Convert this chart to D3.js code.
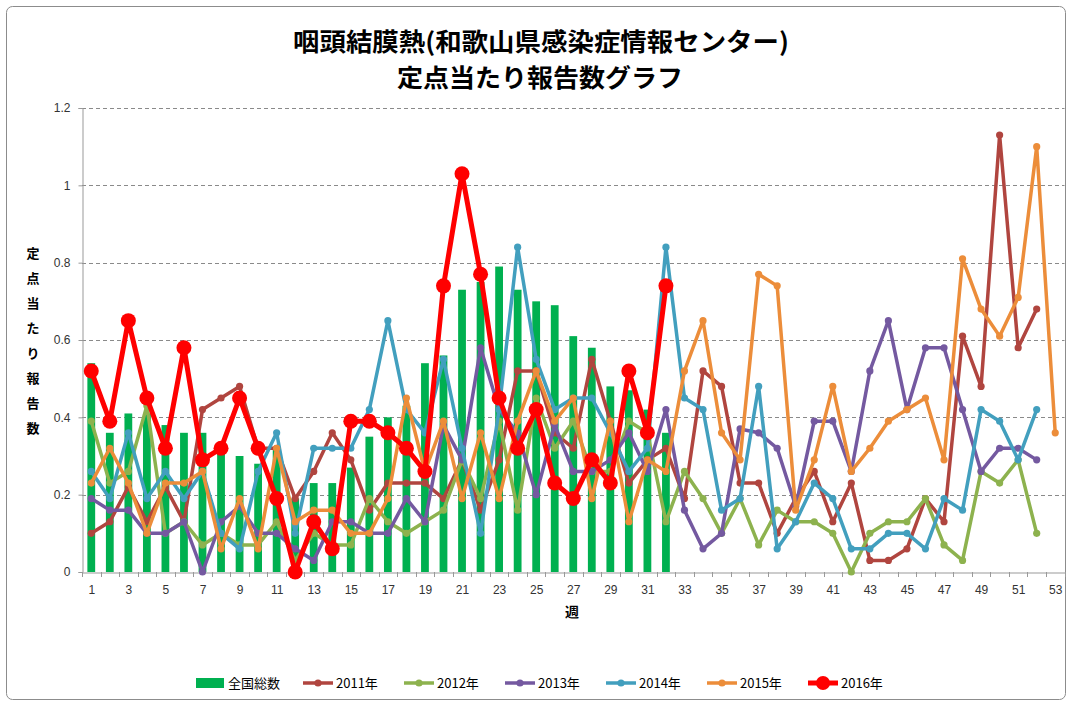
<!DOCTYPE html>
<html>
<head>
<meta charset="utf-8">
<script src="https://cdn.jsdelivr.net/npm/d3@7"></script>
<style>
    body { margin: 0; background: #fff; }
    #chart { width: 1072px; height: 706px; }
    text { font-family: "Liberation Sans", "Noto Sans CJK JP", sans-serif; }
    .jp { font-family: "Noto Sans CJK JP", sans-serif; }
</style>
</head>
<body>
<div id="chart"></div>
<script>
// weeks 1..53
let weeks = d3.range(1, 54);
let yTicks = [0, 0.2, 0.4, 0.6, 0.8, 1, 1.2];

// 全国総数 (bars)
let national = [0.54,0.36,0.41,0.41,0.38,0.36,0.36,0.33,0.30,0.28,0.32,0.19,0.23,0.23,0.27,0.35,
    0.40,0.43,0.54,0.56,0.73,0.75,0.79,0.73,0.70,0.69,0.61,0.58,0.48,0.47,0.42,0.36];

let y2011 = [0.10,0.13,0.22,0.13,0.22,0.13,0.42,0.45,0.48,0.32,0.32,0.19,0.26,0.36,0.29,0.16,
    0.23,0.23,0.23,0.19,0.29,0.16,0.29,0.52,0.52,0.36,0.32,0.55,0.39,0.23,0.29,0.32,0.19,0.52,
    0.48,0.23,0.23,0.10,0.19,0.26,0.13,0.23,0.03,0.03,0.06,0.19,0.13,0.61,0.48,1.13,0.58,0.68];

let y2012 = [0.39,0.23,0.26,0.43,0.10,0.13,0.07,0.10,0.07,0.07,0.13,0.03,0.10,0.07,0.07,0.19,
    0.13,0.10,0.13,0.16,0.29,0.19,0.39,0.16,0.45,0.32,0.39,0.26,0.26,0.39,0.36,0.13,0.26,0.19,
    0.10,0.19,0.07,0.16,0.13,0.13,0.10,0.00,0.10,0.13,0.13,0.19,0.07,0.03,0.26,0.23,0.29,0.10];

let y2013 = [0.19,0.16,0.16,0.10,0.10,0.13,0.00,0.13,0.17,0.10,0.10,0.06,0.03,0.13,0.13,0.10,
    0.10,0.19,0.13,0.38,0.29,0.58,0.42,0.36,0.20,0.38,0.26,0.26,0.29,0.36,0.26,0.42,0.16,0.06,
    0.10,0.37,0.36,0.32,0.17,0.39,0.39,0.26,0.52,0.65,0.42,0.58,0.58,0.42,0.26,0.32,0.32,0.29];

let y2014 = [0.26,0.19,0.36,0.19,0.26,0.19,0.26,0.10,0.06,0.26,0.36,0.10,0.32,0.32,0.32,0.42,
    0.65,0.42,0.36,0.55,0.32,0.10,0.42,0.84,0.55,0.42,0.45,0.45,0.36,0.26,0.32,0.84,0.45,0.42,
    0.16,0.19,0.48,0.06,0.13,0.23,0.19,0.06,0.06,0.10,0.10,0.06,0.19,0.16,0.42,0.39,0.29,0.42];

let y2015 = [0.23,0.32,0.23,0.10,0.23,0.23,0.26,0.06,0.19,0.06,0.32,0.13,0.16,0.16,0.10,0.10,
    0.19,0.45,0.26,0.39,0.19,0.36,0.19,0.39,0.52,0.39,0.45,0.19,0.39,0.13,0.29,0.26,0.52,0.65,
    0.36,0.29,0.77,0.74,0.16,0.29,0.48,0.26,0.32,0.39,0.42,0.45,0.29,0.81,0.68,0.61,0.71,1.10,0.36];

let y2016 = [0.52,0.39,0.65,0.45,0.32,0.58,0.29,0.32,0.45,0.32,0.19,0.00,0.13,0.06,0.39,0.39,
    0.36,0.32,0.26,0.74,1.03,0.77,0.45,0.32,0.42,0.23,0.19,0.29,0.23,0.52,0.36,0.74];

let seriesNames = ["2011年", "2012年", "2013年", "2014年", "2015年", "2016年"];
let seriesValues = [y2011, y2012, y2013, y2014, y2015, y2016];
let seriesColors = ["#b0453f", "#8db24e", "#7459a0", "#429fbe", "#ec8d3a", "#ff0000"];

let width = 1072, height = 706;
let plotLeft = 82, plotRight = 1064.5, plotTop = 108, plotBottom = 572;

let svg = d3.select("#chart")
    .append("svg")
    .attr("width", width)
    .attr("height", height);

// chart frame
svg.append("rect")
    .attr("x", 6.5).attr("y", 6.5)
    .attr("width", 1059).attr("height", 693)
    .attr("rx", 6)
    .attr("fill", "#fff")
    .attr("stroke", "#8c8c8c");

let x = d3.scaleBand()
    .domain(weeks)
    .range([plotLeft, plotRight])
    .paddingInner(0.58)
    .paddingOuter(0.29);

let xp = d3.scalePoint()
    .domain(weeks)
    .range([plotLeft, plotRight])
    .padding(0.5);

let y = d3.scaleLinear()
    .domain([0, 1.2])
    .range([plotBottom, plotTop]);

// gridlines
svg.append("g")
    .selectAll("line")
    .data(yTicks.filter(d => d > 0))
    .enter()
    .append("line")
    .attr("x1", plotLeft)
    .attr("x2", plotRight)
    .attr("y1", d => Math.round(y(d)) + 0.5)
    .attr("y2", d => Math.round(y(d)) + 0.5)
    .attr("stroke", "#8a8a8a")
    .style("stroke-dasharray", "4, 3");

// y axis
let yAxis = d3.axisLeft(y)
    .tickValues(yTicks)
    .tickSize(4)
    .tickPadding(8)
    .tickFormat(d => d3.format("~g")(d));

let gy = svg.append("g")
    .attr("transform", "translate(" + (plotLeft + 0.5) + ",0)")
    .call(yAxis);
gy.select(".domain").attr("stroke", "#999");
gy.selectAll(".tick line").attr("stroke", "#999");
gy.selectAll("text").style("font-size", "12px").attr("fill", "#333");

// x axis labels (odd weeks)
let xAxis = d3.axisBottom(xp)
    .tickValues(weeks.filter(d => d % 2 === 1))
    .tickSize(0)
    .tickPadding(13);

let gx = svg.append("g")
    .attr("transform", "translate(0," + (plotBottom + 0.5) + ")")
    .call(xAxis);
gx.select(".domain").attr("stroke", "#999");
gx.selectAll("text").style("font-size", "12px").attr("fill", "#333");

// tick marks between categories
let step = x.step();
svg.append("g")
    .selectAll("line")
    .data(weeks.concat([54]))
    .enter()
    .append("line")
    .attr("x1", d => Math.round(plotLeft + (d - 1) * step) + 0.5)
    .attr("x2", d => Math.round(plotLeft + (d - 1) * step) + 0.5)
    .attr("y1", plotBottom)
    .attr("y2", plotBottom + 5)
    .attr("stroke", "#999");

// bars 全国総数
svg.append("g")
    .selectAll("rect")
    .data(national)
    .enter()
    .append("rect")
    .attr("x", (d, i) => x(weeks[i]))
    .attr("width", x.bandwidth())
    .attr("y", d => y(d))
    .attr("height", d => plotBottom - y(d))
    .attr("fill", "#00b050");

// lines
let line = d3.line()
    .x((d, i) => xp(weeks[i]))
    .y(d => y(d));

seriesValues.forEach((vals, k) => {
    let big = k === 5;
    svg.append("path")
        .datum(vals)
        .attr("d", line)
        .attr("fill", "none")
        .attr("stroke", seriesColors[k])
        .attr("stroke-width", big ? 5 : 3.5)
        .attr("stroke-linejoin", "round");
    svg.append("g")
        .selectAll("circle")
        .data(vals)
        .enter()
        .append("circle")
        .attr("cx", (d, i) => xp(weeks[i]))
        .attr("cy", d => y(d))
        .attr("r", big ? 7.5 : 3.6)
        .attr("fill", seriesColors[k]);
});

// title
svg.append("text")
    .attr("class", "jp")
    .attr("x", 541)
    .attr("y", 51)
    .attr("text-anchor", "middle")
    .attr("textLength", 496)
    .attr("lengthAdjust", "spacingAndGlyphs")
    .style("font-size", "25px")
    .style("font-weight", "bold")
    .text("咽頭結膜熱(和歌山県感染症情報センター)");
svg.append("text")
    .attr("class", "jp")
    .attr("x", 540)
    .attr("y", 87)
    .attr("text-anchor", "middle")
    .attr("textLength", 286)
    .attr("lengthAdjust", "spacingAndGlyphs")
    .style("font-size", "25px")
    .style("font-weight", "bold")
    .text("定点当たり報告数グラフ");

// y axis title, stacked vertically
let yLabel = "定点当たり報告数".split("");
svg.append("g")
    .selectAll("text")
    .data(yLabel)
    .enter()
    .append("text")
    .attr("class", "jp")
    .attr("x", 33)
    .attr("y", (d, i) => 258 + i * 25)
    .attr("text-anchor", "middle")
    .style("font-size", "13px")
    .style("font-weight", "bold")
    .text(d => d);

// x axis title
svg.append("text")
    .attr("class", "jp")
    .attr("x", 572)
    .attr("y", 617)
    .attr("text-anchor", "middle")
    .style("font-size", "14px")
    .style("font-weight", "bold")
    .text("週");

// legend
let legend = svg.append("g").attr("transform", "translate(0,683)");
legend.append("rect")
    .attr("x", 196).attr("y", -5)
    .attr("width", 28).attr("height", 10)
    .attr("fill", "#00b050");
legend.append("text")
    .attr("class", "jp")
    .attr("x", 228).attr("y", 5)
    .style("font-size", "13px")
    .text("全国総数");

seriesNames.forEach((name, k) => {
    let big = k === 5;
    let lx = 303 + k * 101;
    legend.append("line")
        .attr("x1", lx).attr("x2", lx + 30)
        .attr("stroke", seriesColors[k])
        .attr("stroke-width", big ? 5 : 3.5);
    legend.append("circle")
        .attr("cx", lx + 15)
        .attr("r", big ? 7 : 3.6)
        .attr("fill", seriesColors[k]);
    legend.append("text")
        .attr("class", "jp")
        .attr("x", lx + 33).attr("y", 5)
        .style("font-size", "13px")
        .text(name);
});
</script>
</body>
</html>
